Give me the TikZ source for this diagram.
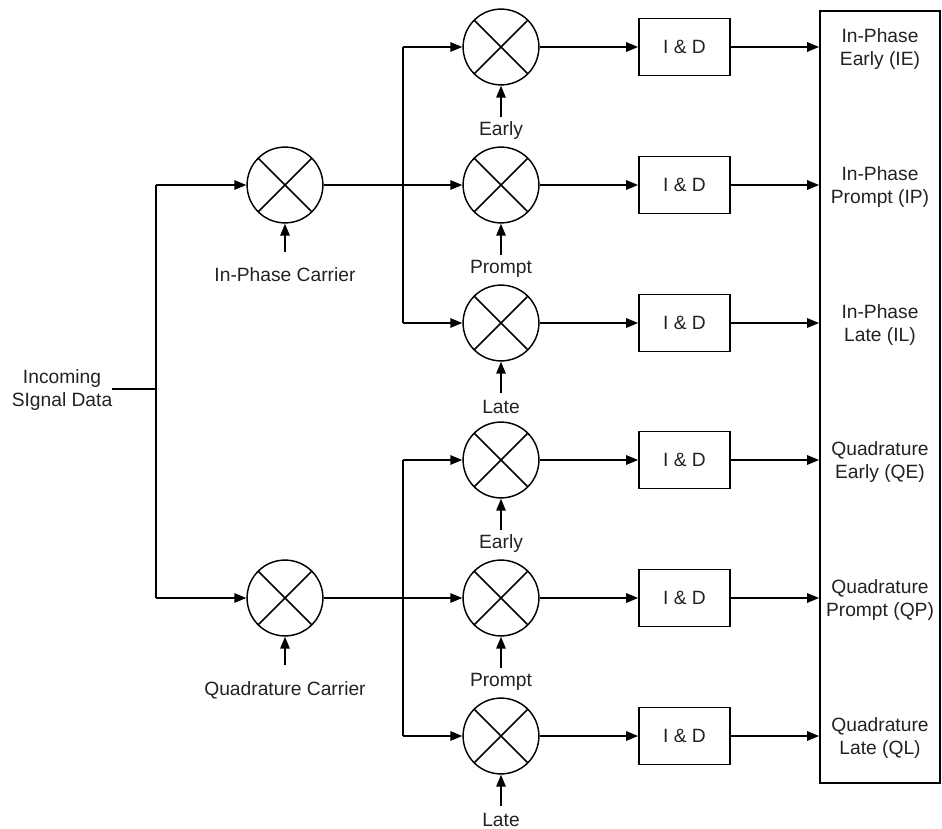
\documentclass[tikz,border=0pt]{standalone}
\usepackage{fontspec}
\setmainfont{Liberation Sans}
\usetikzlibrary{arrows.meta}
\definecolor{txt}{HTML}{222222}
\begin{document}
\begin{tikzpicture}[x=0.0265cm,y=-0.0265cm,
  line width=1.3pt,
  every node/.style={font=\fontsize{14.5}{17.5}\selectfont, text=txt},
  mixer/.style={draw, circle, minimum size=2.01cm, inner sep=0pt, line width=1.1pt,
    path picture={\draw[line width=1.1pt] (path picture bounding box.north west) -- (path picture bounding box.south east)
      (path picture bounding box.north east) -- (path picture bounding box.south west);}},
  idbox/.style={draw, rectangle, minimum width=2.41cm, minimum height=1.51cm, inner sep=0pt},
  lbl/.style={align=center, inner sep=1pt},
  arr/.style={-{Triangle[length=9pt,width=7pt]}}
]
\useasboundingbox (0,0) rectangle (942,829);

% input
\node[lbl] (inc) at (62,390) {Incoming\\SIgnal Data};
\coordinate (ja) at (112,389);
\coordinate (jb) at (156,389);
\coordinate (jt) at (156,185);
\coordinate (jd) at (156,598);

\node[mixer] (m1) at (285,185) {};
\node[mixer] (m2) at (285,598) {};

\draw (ja) -- (jb);
\draw (jt) -- (jd);
\draw[arr] (jt) -- (m1.west);
\draw[arr] (jd) -- (m2.west);

\coordinate (c1) at (285,252);
\coordinate (c2) at (285,665);
\draw[arr] (c1) -- (m1.south);
\draw[arr] (c2) -- (m2.south);
\node[lbl] (l1) at (285,275) {In-Phase Carrier};
\node[lbl] (l2) at (285,690) {Quadrature Carrier};

% output bus
\node[draw, rectangle, minimum width=3.18cm, minimum height=20.46cm, inner sep=0pt] (bus) at (880,397) {};

% second stage
\foreach \n/\y/\lab/\outa/\outb in {
  a/47/Early/In-Phase/Early (IE),
  b/185/Prompt/In-Phase/Prompt (IP),
  c/323/Late/In-Phase/Late (IL),
  d/460/Early/Quadrature/Early (QE),
  e/598/Prompt/Quadrature/Prompt (QP),
  f/736/Late/Quadrature/Late (QL)}{
  \node[mixer] (s\n) at (501,\y) {};
  \node[idbox] (b\n) at (684.5,\y) {I \& D};
  \coordinate (t\n) at (501,\y+70);
  \draw[arr] (t\n) -- (s\n.south);
  \node[lbl] (e\n) at (501,\y+84) {\lab};
  \draw[arr] (s\n.east) -- (b\n.west);
  \draw[arr] (b\n.east) -- (bus.west |- b\n.east);
  \node[lbl] (o\n) at (880,\y+2) {\outa\\\outb};
}

% splitters
\coordinate (pa) at (403,47);
\coordinate (pc) at (403,323);
\coordinate (pd) at (403,460);
\coordinate (pf) at (403,736);
\draw (pa) -- (pc);
\draw (pd) -- (pf);
\draw[arr] (m1.east) -- (sb.west);
\draw[arr] (pa) -- (sa.west);
\draw[arr] (pc) -- (sc.west);
\draw[arr] (m2.east) -- (se.west);
\draw[arr] (pd) -- (sd.west);
\draw[arr] (pf) -- (sf.west);
\end{tikzpicture}
\end{document}
